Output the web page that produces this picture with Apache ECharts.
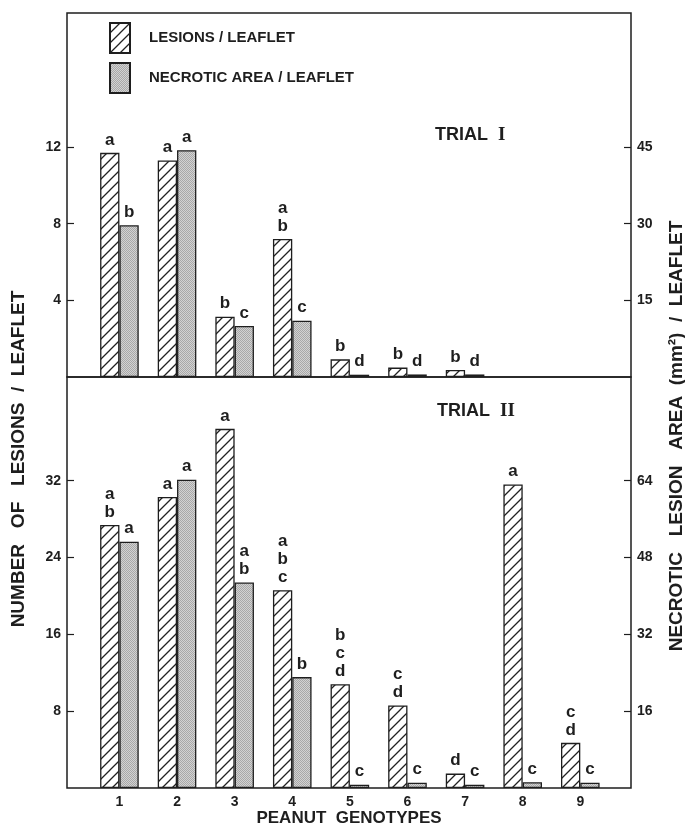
<!DOCTYPE html>
<html><head><meta charset="utf-8">
<script src="https://cdn.jsdelivr.net/npm/echarts@6/dist/echarts.min.js"></script>
<style>html,body{margin:0;padding:0;background:#fff}#c{width:685px;height:828px}</style>
</head><body><div id="c"></div>
<script>
// ---- data ----
const genotypes = [1, 2, 3, 4, 5, 6, 7, 8, 9];
const trial1Lesions  = [11.7, 11.3, 3.15, 7.2, 0.92, 0.49, 0.37, null, null];
const trial1Necrotic = [29.7, 44.4, 10.0, 11.0, 0.45, 0.5, 0.5, null, null];
const trial2Lesions  = [27.4, 30.3, 37.4, 20.6, 10.8, 8.6, 1.5, 31.6, 4.7];
const trial2Necrotic = [51.3, 64.2, 42.8, 23.1, 0.7, 1.1, 0.7, 1.2, 1.1];
const trial1LesionLetters  = ['a', 'a', 'b', 'a\nb', 'b', 'b', 'b', '', ''];
const trial1NecroticLetters = ['b', 'a', 'c', 'c', 'd', 'd', 'd', '', ''];
const trial2LesionLetters  = ['a\nb', 'a', 'a', 'a\nb\nc', 'b\nc\nd', 'c\nd', 'd', 'a', 'c\nd'];
const trial2NecroticLetters = ['a', 'a', 'a\nb', 'b', 'c', 'c', 'c', 'c', 'c'];
const leftTicksTop = [4, 8, 12];
const rightTicksTop = [15, 30, 45];
const leftTicksBottom = [8, 16, 24, 32];
const rightTicksBottom = [16, 32, 48, 64];
const seriesNames = ['LESIONS / LEAFLET', 'NECROTIC AREA / LEAFLET'];

// ---- styles ----
const FONT = '"Liberation Sans", Arial, Helvetica, sans-serif';
const INK = '#1e1e1e';
function hatchCanvas() {
  const s = 10;
  const c = document.createElement('canvas'); c.width = s; c.height = s;
  const g = c.getContext('2d');
  g.fillStyle = '#ffffff'; g.fillRect(0, 0, s, s);
  g.strokeStyle = '#222222'; g.lineWidth = 1.3;
  g.beginPath();
  g.moveTo(-1, s + 1); g.lineTo(s + 1, -1);
  g.moveTo(-1, 1); g.lineTo(1, -1);
  g.moveTo(s - 1, s + 1); g.lineTo(s + 1, s - 1);
  g.stroke();
  return c;
}
function grayCanvas() {
  const c = document.createElement('canvas'); c.width = 2; c.height = 2;
  const g = c.getContext('2d');
  g.fillStyle = '#d2d2d2'; g.fillRect(0, 0, 2, 2);
  g.fillStyle = '#a8a8a8'; g.fillRect(0, 0, 1, 1); g.fillRect(1, 1, 1, 1);
  return c;
}
const hatchFill = { image: hatchCanvas(), repeat: 'repeat' };
const grayFill = { image: grayCanvas(), repeat: 'repeat' };

function pairs(vals) {
  return genotypes.map((g, i) => [g, vals[i]]).filter(d => d[1] != null);
}
function barSeries(name, vals, letters, fill, xi, yi) {
  return {
    type: 'bar', name: name, xAxisIndex: xi, yAxisIndex: yi,
    data: pairs(vals), barWidth: 19.3, barGap: '0%',
    itemStyle: { color: fill, borderColor: INK, borderWidth: 1.3 },
    label: {
      show: true, position: 'top', distance: 4,
      formatter: p => letters[genotypes.indexOf(p.value[0])],
      fontFamily: FONT, fontWeight: 'bold', fontSize: 17, lineHeight: 18, color: INK
    },
    emphasis: { disabled: true }, animation: false
  };
}
function yAx(gi, pos, max, ticks) {
  return {
    type: 'value', gridIndex: gi, position: pos, min: 0, max: max,
    splitLine: { show: false }, axisLine: { show: false },
    axisTick: { show: true, inside: true, length: 7, customValues: ticks, lineStyle: { color: INK, width: 1.2 } },
    axisLabel: { customValues: ticks, fontFamily: FONT, fontWeight: 'bold', fontSize: 14, color: INK, margin: 6 }
  };
}
function xAx(gi, labels) {
  const a = {
    type: 'value', gridIndex: gi, min: 0.09, max: 9.88,
    splitLine: { show: false }, axisLine: { show: false }, axisTick: { show: false },
    axisLabel: { show: labels, customValues: genotypes, fontFamily: FONT, fontWeight: 'bold', fontSize: 14, color: INK, margin: 7 }
  };
  if (labels) {
    a.name = 'PEANUT  GENOTYPES'; a.nameLocation = 'middle'; a.nameGap = 21;
    a.nameTextStyle = { fontFamily: FONT, fontWeight: 'bold', fontSize: 17, color: INK };
  }
  return a;
}
const trialRich = {
  a: { fontFamily: FONT, fontWeight: 'bold', fontSize: 18, color: INK },
  b: { fontFamily: '"Liberation Serif", "DejaVu Serif", serif', fontWeight: 'bold', fontSize: 19, color: INK }
};

const chart = echarts.init(document.getElementById('c'), null, { renderer: 'canvas' });
chart.setOption({
  animation: false,
  backgroundColor: '#ffffff',
  grid: [
    { left: 67, right: 54, top: 13, height: 364, show: true, borderColor: INK, borderWidth: 1.5, backgroundColor: 'transparent' },
    { left: 67, right: 54, top: 377, height: 411, show: true, borderColor: INK, borderWidth: 1.5, backgroundColor: 'transparent' }
  ],
  xAxis: [xAx(0, false), xAx(1, true)],
  yAxis: [
    yAx(0, 'left', 19, leftTicksTop),
    yAx(0, 'right', 71.25, rightTicksTop),
    yAx(1, 'left', 42.8, leftTicksBottom),
    yAx(1, 'right', 85.6, rightTicksBottom)
  ],
  legend: {
    data: seriesNames, orient: 'vertical', left: 109, top: 22, padding: 0,
    itemWidth: 20, itemHeight: 30, itemGap: 8, icon: 'rect', selectedMode: false,
    textStyle: { fontFamily: FONT, fontWeight: 'bold', fontSize: 15, color: INK, padding: [0, 0, 0, 14] }
  },
  title: [
    { text: '{a|TRIAL}  {b|I}', left: 435, top: 126, padding: 0, textStyle: { rich: trialRich } },
    { text: '{a|TRIAL}  {b|II}', left: 437, top: 402, padding: 0, textStyle: { rich: trialRich } }
  ],
  graphic: [
    { type: 'text', x: 19, y: 459, rotation: Math.PI / 2, silent: true,
      style: { text: 'NUMBER   OF   LESIONS  /  LEAFLET', fontFamily: FONT, fontWeight: 'bold', fontSize: 19, fill: INK, align: 'center', verticalAlign: 'middle' } },
    { type: 'text', x: 677, y: 436, rotation: Math.PI / 2, silent: true,
      style: { text: 'NECROTIC   LESION   AREA  (mm\u00B2)  /  LEAFLET', fontFamily: FONT, fontWeight: 'bold', fontSize: 19, fill: INK, align: 'center', verticalAlign: 'middle' } }
  ],
  series: [
    barSeries(seriesNames[0], trial1Lesions, trial1LesionLetters, hatchFill, 0, 0),
    barSeries(seriesNames[1], trial1Necrotic, trial1NecroticLetters, grayFill, 0, 1),
    barSeries(seriesNames[0], trial2Lesions, trial2LesionLetters, hatchFill, 1, 2),
    barSeries(seriesNames[1], trial2Necrotic, trial2NecroticLetters, grayFill, 1, 3)
  ]
});
</script></body></html>
